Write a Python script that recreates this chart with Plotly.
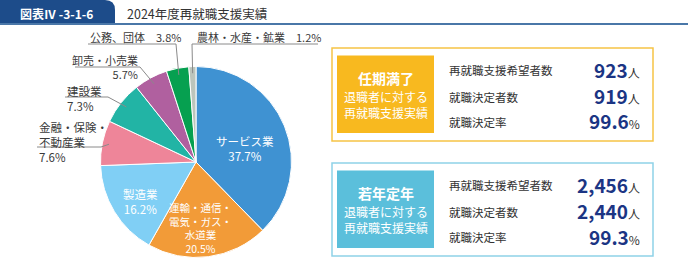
import math
import plotly.graph_objects as go

W, H = 688, 259

# ---- data ----
categories = ["サービス業", "運輸・通信・電気・ガス・水道業", "製造業", "金融・保険・不動産業",
              "建設業", "卸売・小売業", "公務、団体", "農林・水産・鉱業"]
shares = [37.7, 20.5, 16.2, 7.6, 7.3, 5.7, 3.8, 1.2]
colors = ["#3f92d2", "#f29b38", "#80cff5", "#ee8599", "#22b4a5", "#b0609f", "#06a050", "#bcc5bc"]

stat_labels = ["再就職支援希望者数", "就職決定者数", "就職決定率"]
ninki_values = ["923", "919", "99.6"]
jakunen_values = ["2,456", "2,440", "99.3"]
stat_units = ["人", "人", "%"]

FONT = "Noto Sans CJK JP"
TXT = "#3a3a3a"


def X(px):
    return px / W


def Y(py):
    return 1 - py / H


# pie geometry (pixels)
CX, CY, R = 196, 162, 95.5

fig = go.Figure()
fig.add_trace(go.Pie(
    labels=categories, values=shares, sort=False, direction="clockwise", rotation=0,
    marker=dict(colors=colors, line=dict(color="white", width=1)),
    textinfo="none", hoverinfo="label+percent", showlegend=False,
    domain=dict(x=[X(CX - R), X(CX + R)], y=[Y(CY + R), Y(CY - R)]),
))

shapes = []
annotations = []


def ann(x, y, text, size=11, color=TXT, xanchor="left", bold=False, align=None):
    if bold:
        text = "<b>" + text + "</b>"
    annotations.append(dict(x=X(x), y=Y(y), xref="paper", yref="paper", text=text,
                            showarrow=False, xanchor=xanchor, yanchor="middle",
                            align=align or ("left" if xanchor == "left" else
                                            "right" if xanchor == "right" else "center"),
                            font=dict(family=FONT, size=size, color=color)))


# header
tab = "M {},{} L {},{} Q {},{} {},{} L {},{} L {},{} Z".format(
    X(0), Y(0), X(105), Y(0), X(115), Y(0), X(115), Y(10), X(115), Y(23), X(0), Y(23))
shapes.append(dict(type="path", path=tab, xref="paper", yref="paper",
                   fillcolor="#1d4c8a", line=dict(width=0)))
shapes.append(dict(type="line", xref="paper", yref="paper", x0=X(0), x1=X(688), y0=Y(24), y1=Y(24),
                   line=dict(color="#4a77a8", width=2)))
ann(57, 13, "図表Ⅳ -3-1-6", size=12, color="white", xanchor="center", bold=True)
ann(125, 13, "2024年度再就職支援実績", size=12.5, color="#333333")

# slice anchors computed from data
cum = 0
anchors = []
for s in shares:
    mid = (cum + s / 2) / 100 * 2 * math.pi
    cum += s
    r = R * 0.93
    anchors.append((CX + r * math.sin(mid), CY - r * math.cos(mid)))


def leader(points):
    path = "M " + " L ".join("{},{}".format(X(px), Y(py)) for px, py in points)
    shapes.append(dict(type="path", path=path, xref="paper", yref="paper",
                       line=dict(color="#8a8a8a", width=1)))


# outside labels
ann(88, 37, "公務、団体　" + f"{shares[6]}%")
leader([(88, 44), (176, 44), anchors[6]])
ann(195, 37, "農林・水産・鉱業　" + f"{shares[7]}%")
leader([(318, 44), (192, 44), anchors[7]])
ann(140, 67, "卸売・小売業<br>" + f"{shares[5]}%", xanchor="right")
leader([(75, 67), (140, 67), anchors[5]])
ann(65, 98.5, "建設業<br>" + f"{shares[4]}%", size=11.5)
leader([(65, 97), (108, 97), anchors[4]])
ann(37, 142, "金融・保険・<br>不動産業<br>" + f"{shares[3]}%", size=11.5)
leader([(37, 147), (101, 147), anchors[3]])

# inside labels
ann(245, 148, "サービス業<br>" + f"{shares[0]}%", size=11.5, color="white", xanchor="center")
ann(140, 201, "製造業<br>" + f"{shares[2]}%", size=11.5, color="white", xanchor="center")
ann(200, 227.5, "運輸・通信・<br>電気・ガス・<br>水道業<br>" + f"{shares[1]}%",
    size=10.5, color="white", xanchor="center")


# right boxes
def box(top, border, fill, title, values):
    shapes.append(dict(type="rect", xref="paper", yref="paper", x0=X(332), x1=X(653),
                       y0=Y(top), y1=Y(top + 93), line=dict(color=border, width=1.5),
                       fillcolor="white"))
    shapes.append(dict(type="rect", xref="paper", yref="paper", x0=X(337), x1=X(434),
                       y0=Y(top + 7.5), y1=Y(top + 85), line=dict(width=0), fillcolor=fill))
    ann(385.5, top + 30, title, size=14, color="white", xanchor="center", bold=True)
    ann(385.5, top + 56.5, "退職者に対する<br>再就職支援実績", size=12, color="white", xanchor="center")
    rows = [top + 22, top + 48.5, top + 74]
    for lab, val, unit, ry in zip(stat_labels, values, stat_units, rows):
        ann(447, ry, lab, size=11.5, color="#333333")
        ann(642, ry - 1, "<b>" + val + "</b><span style='font-size:12px;color:#333333'>"
            + unit + "</span>", size=19, color="#1b3584", xanchor="right")


box(48, "#f6c445", "#f8b91f", "任期満了", ninki_values)
box(163, "#8fd2e8", "#5bbfdb", "若年定年", jakunen_values)

fig.update_layout(width=W, height=H, margin=dict(l=0, r=0, t=0, b=0),
                  paper_bgcolor="white", plot_bgcolor="white",
                  shapes=shapes, annotations=annotations,
                  font=dict(family=FONT))
fig.write_html("out.html")
